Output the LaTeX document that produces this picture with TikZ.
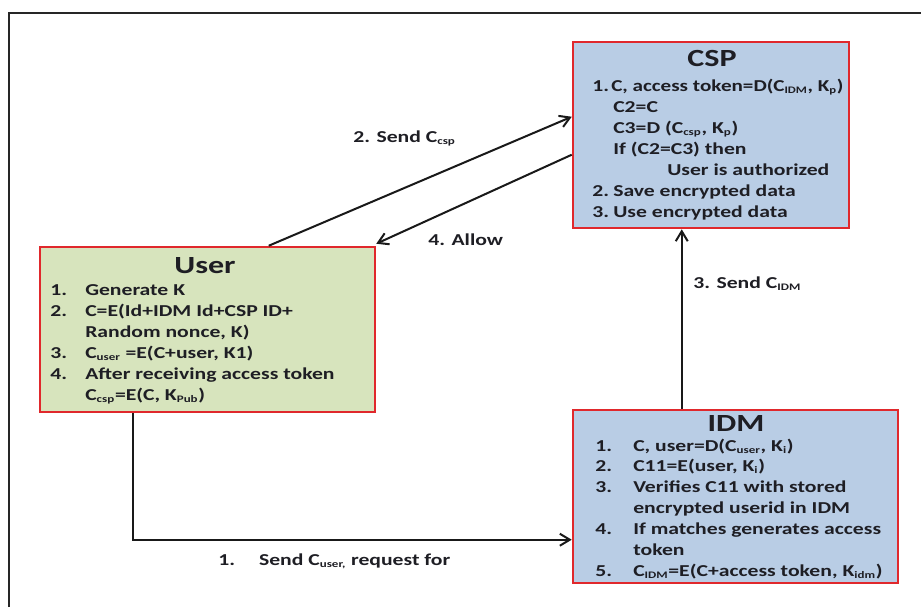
\documentclass[tikz,border=0pt]{standalone}
\usepackage{fontspec}
\setmainfont{Carlito}[FakeStretch=1.3]
\usetikzlibrary{arrows.meta,calc}
\definecolor{boxred}{HTML}{E0282C}
\definecolor{bluefill}{HTML}{B9CDE5}
\definecolor{greenfill}{HTML}{D7E4BD}
\definecolor{ink}{HTML}{1E1E24}
\newcommand\sbs[1]{\textsubscript{\fontsize{7.5}{8}\selectfont #1}}
\tikzset{
  box/.style={draw=boxred, line width=1.9pt, rectangle, inner sep=0pt},
  body/.style={font=\fontsize{12.5}{15}\selectfont\bfseries, text=ink, inner sep=0pt, anchor=base west},
  ttl/.style={font=\fontsize{18.5}{20}\selectfont\bfseries, text=ink, inner sep=0pt, anchor=base},
  lbl/.style={font=\fontsize{12.5}{15}\selectfont\bfseries, text=ink, inner sep=0pt, anchor=base west},
  conn/.style={draw=black!90, line width=1.5pt, -{Straight Barb[length=7.5pt,width=9pt,line width=1.5pt]}},
}
\begin{document}
\begin{tikzpicture}[x=0.75pt,y=-0.75pt]
\useasboundingbox (0,0) rectangle (921,607);
% outer frame (top and left only)
\draw[line width=2.2pt, black!85] (9,607) -- (9,13) -- (921,13);

% boxes
\node[box, fill=bluefill, minimum width=207pt, minimum height=139.5pt] (csp) at (711,135) {};
\node[box, fill=greenfill, minimum width=251.25pt, minimum height=123.75pt] (user) at (207.5,329.5) {};
\node[box, fill=bluefill, minimum width=243.75pt, minimum height=129.75pt] (idm) at (735.5,496.5) {};

% CSP text
\node[ttl] (cspt) at (712,66) {CSP};
\node[body] (c1n) at (592,91) {1.};
\node[body] (c1) at (611,91) {\scalebox{0.975}[1]{C, access token=D(C\sbs{IDM}, K\sbs{p})}};
\node[body] (c2) at (613,112) {C2=C};
\node[body] (c3) at (613,133) {C3=D (C\sbs{csp}, K\sbs{p})};
\node[body] (c4) at (613,154) {If (C2=C3) then};
\node[body] (c5) at (667,175) {User is authorized};
\node[body] (c6n) at (592,196) {2.};
\node[body] (c6) at (613,196) {Save encrypted data};
\node[body] (c7n) at (592,217) {3.};
\node[body] (c7) at (613,217) {Use encrypted data};

% User text
\node[ttl] (usert) at (205,273) {User};
\node[body] (u1n) at (50,295) {1.};
\node[body] (u1) at (85,295) {Generate K};
\node[body] (u2n) at (50,316) {2.};
\node[body] (u2) at (85,316) {C=E(Id+IDM Id+CSP ID+};
\node[body] (u2b) at (85,337) {Random nonce, K)};
\node[body] (u3n) at (50,358) {3.};
\node[body] (u3) at (85,358) {C\sbs{user} =E(C+user, K1)};
\node[body] (u4n) at (50,379) {4.};
\node[body] (u4) at (85,379) {After receiving access token};
\node[body] (u4b) at (85,400) {C\sbs{csp}=E(C, K\sbs{Pub})};

% IDM text
\node[ttl] (idmt) at (736,431) {IDM};
\node[body] (i1n) at (595,451) {1.};
\node[body] (i1) at (633,451) {C, user=D(C\sbs{user}, K\sbs{i})};
\node[body] (i2n) at (595,471) {2.};
\node[body] (i2) at (633,471) {C11=E(user, K\sbs{i})};
\node[body] (i3n) at (595,492) {3.};
\node[body] (i3) at (633,492) {Verifies C11 with stored};
\node[body] (i3b) at (633,513) {encrypted userid in IDM};
\node[body] (i4n) at (595,534) {4.};
\node[body] (i4) at (633,534) {If matches generates access};
\node[body] (i4b) at (633,555) {token};
\node[body] (i5n) at (595,576) {5.};
\node[body] (i5) at (633,576) {C\sbs{IDM}=E(C+access token, K\sbs{idm})};

% connectors
\draw[conn] ($(user.north west)+(230,0)$) -- ($(csp.north west)+(0,76)$);
\draw[conn] ($(csp.north west)+(0,114)$) -- ($(user.north east)+(0,-2)$);
\draw[conn] ($(idm.north west)+(110,0)$) -- ($(csp.south west)+(110,0)$);
\draw[conn] ($(user.south west)+(94,0)$) |- ($(idm.north west)+(0,131)$);

% connector labels
\node[lbl] (l2) at (353,142) {2. Send C\sbs{csp}};
\node[lbl] (l4) at (428,245) {4. Allow};
\node[lbl] (l3) at (693,288) {3. Send C\sbs{IDM}};
\node[lbl] (l1) at (218,565) {1.\hspace{18pt}Send C\sbs{user,} request for};
\end{tikzpicture}
\end{document}
